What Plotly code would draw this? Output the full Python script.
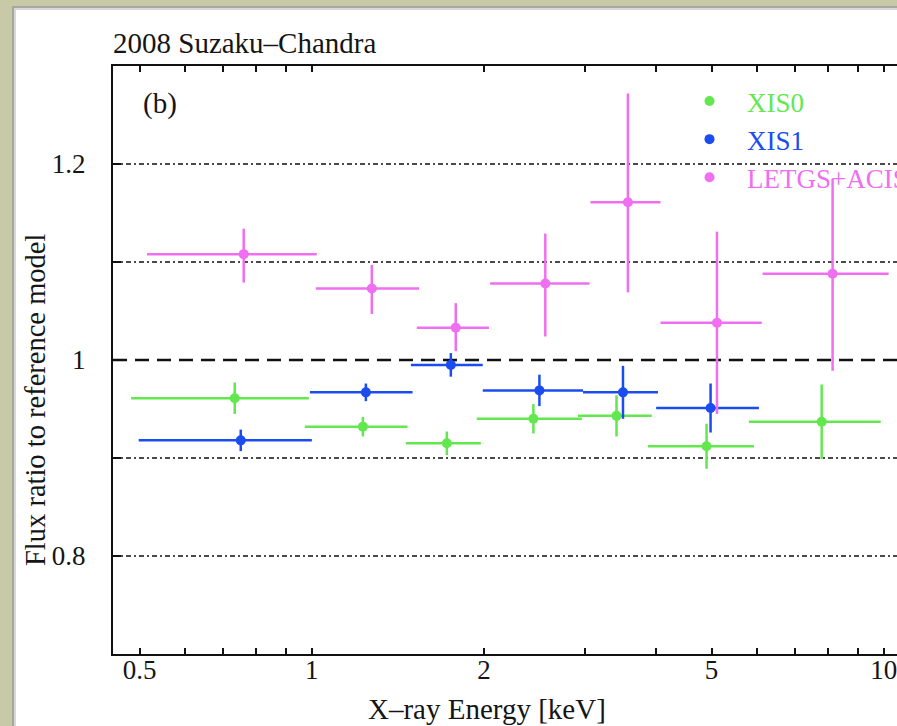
import numpy as np
import plotly.graph_objects as go

# ---------------- data ----------------
xis0_energy = [0.733, 1.228, 1.722, 2.44, 3.41, 4.90, 7.79]
xis0_elo    = [0.483, 0.972, 1.46, 1.943, 2.92, 3.87, 5.81]
xis0_ehi    = [0.988, 1.47, 1.975, 2.965, 3.93, 5.93, 9.88]
xis0_ratio  = [0.961, 0.932, 0.915, 0.940, 0.943, 0.912, 0.937]
xis0_err    = [0.016, 0.010, 0.012, 0.015, 0.021, 0.023, 0.038]

xis1_energy = [0.751, 1.243, 1.75, 2.50, 3.50, 4.98]
xis1_elo    = [0.498, 0.992, 1.49, 1.99, 2.98, 4.00]
xis1_ehi    = [1.00, 1.50, 1.99, 2.98, 4.03, 6.05]
xis1_ratio  = [0.918, 0.967, 0.995, 0.969, 0.967, 0.951]
xis1_err    = [0.011, 0.009, 0.012, 0.016, 0.027, 0.025]

letg_energy = [0.76, 1.273, 1.785, 2.56, 3.57, 5.11, 8.14]
letg_elo    = [0.515, 1.016, 1.526, 2.05, 3.07, 4.07, 6.14]
letg_ehi    = [1.02, 1.54, 2.04, 3.06, 4.07, 6.12, 10.2]
letg_ratio  = [1.108, 1.073, 1.033, 1.078, 1.161, 1.038, 1.088]
letg_errp   = [0.026, 0.024, 0.025, 0.051, 0.111, 0.093, 0.097]
letg_errm   = [0.029, 0.026, 0.024, 0.054, 0.092, 0.093, 0.099]

x_tick_vals = [0.5, 1, 2, 5, 10]
x_tick_text = ["0.5", "1", "2", "5", "10"]
x_minor_vals = [0.6, 0.7, 0.8, 0.9, 3, 4, 6, 7, 8, 9]
x_decade_vals = [1, 10]
y_tick_vals = [0.8, 0.9, 1.0, 1.1, 1.2]
y_tick_text = ["0.8", "", "1", "", "1.2"]
grid_levels = [0.8, 0.9, 1.1, 1.2]
unity_level = 1.0

series_names = ["XIS0", "XIS1", "LETGS+ACIS"]
colors = ["#62e84e", "#1a4cf0", "#f06ef0"]

# ---------------- geometry ----------------
W, H = 897, 726
ML, MR, MT, MB = 113, 0, 66, 72
PW, PH = W - ML - MR, H - MT - MB


def px_x(p):
    return (p - ML) / PW


def px_y(p):
    return (H - MB - p) / PH


FONT = "Liberation Serif"
TXT = "#151515"

fig = go.Figure()


def add_series(name, color, e, lo, hi, r, ep, em):
    e = np.array(e)
    fig.add_trace(go.Scatter(
        x=e, y=r, mode="markers",
        name=f"<span style='color:{color}'>{name}</span>",
        marker=dict(color=color, size=10),
        error_x=dict(type="data", symmetric=False,
                     array=np.array(hi) - e, arrayminus=e - np.array(lo),
                     color=color, thickness=2.5, width=0),
        error_y=dict(type="data", symmetric=False,
                     array=ep, arrayminus=em,
                     color=color, thickness=2.5, width=0),
        legendgroup=name,
    ))


add_series(series_names[0], colors[0], xis0_energy, xis0_elo, xis0_ehi,
           xis0_ratio, xis0_err, xis0_err)
add_series(series_names[1], colors[1], xis1_energy, xis1_elo, xis1_ehi,
           xis1_ratio, xis1_err, xis1_err)
add_series(series_names[2], colors[2], letg_energy, letg_elo, letg_ehi,
           letg_ratio, letg_errp, letg_errm)

xr = [np.log10(0.449), np.log10(10.55)]

shapes = [
    # page shadow and white page
    dict(type="rect", xref="paper", yref="paper", layer="below",
         x0=px_x(12), x1=px_x(W + 5), y0=px_y(6), y1=px_y(H + 5),
         fillcolor="#a8a8a0", line=dict(width=0)),
    dict(type="rect", xref="paper", yref="paper", layer="below",
         x0=px_x(14), x1=px_x(W + 5), y0=px_y(8), y1=px_y(H + 5),
         fillcolor="#d8d8d8", line=dict(width=0)),
    dict(type="rect", xref="paper", yref="paper", layer="below",
         x0=px_x(16), x1=px_x(W + 5), y0=px_y(10), y1=px_y(H + 5),
         fillcolor="white", line=dict(width=0)),
]
for lv in grid_levels:
    shapes.append(dict(type="line", xref="paper", yref="y", layer="below",
                       x0=0, x1=1, y0=lv, y1=lv,
                       line=dict(color="#111", width=1.7, dash="5px,3px,2px,3px")))
shapes.append(dict(type="line", xref="paper", yref="y", layer="below",
                   x0=0, x1=1, y0=unity_level, y1=unity_level,
                   line=dict(color="#111", width=2.3, dash="14px,8px")))

annotations = [
    dict(text="2008 Suzaku–Chandra", xref="paper", yref="paper",
         x=px_x(111), y=px_y(43), xanchor="left", yanchor="middle",
         showarrow=False, font=dict(family=FONT, size=29, color=TXT)),
    dict(text="(b)", xref="paper", yref="paper",
         x=px_x(141), y=px_y(103), xanchor="left", yanchor="middle",
         showarrow=False, font=dict(family=FONT, size=29, color=TXT)),
    dict(text="Flux ratio to reference model", xref="paper", yref="paper",
         x=px_x(35), y=px_y(400), xanchor="center", yanchor="middle",
         textangle=-90, showarrow=False,
         font=dict(family=FONT, size=28.5, color=TXT)),
    dict(text="X–ray Energy [keV]", xref="paper", yref="paper",
         x=px_x(487), y=px_y(709), xanchor="center", yanchor="middle",
         showarrow=False, font=dict(family=FONT, size=29, color=TXT)),
]

fig.update_layout(
    width=W, height=H,
    margin=dict(l=ML, r=MR, t=MT, b=MB, pad=0, autoexpand=False),
    paper_bgcolor="#c7c9a7",
    plot_bgcolor="white",
    showlegend=True,
    legend=dict(x=px_x(672), y=px_y(77), xanchor="left", yanchor="top",
                bgcolor="rgba(0,0,0,0)", borderwidth=0,
                font=dict(family=FONT, size=27),
                itemwidth=65, tracegroupgap=1, traceorder="normal"),
    xaxis=dict(type="log", range=xr, tickmode="array",
               tickvals=x_tick_vals, ticktext=x_tick_text,
               ticks="inside", ticklen=6, tickwidth=1.6, tickcolor="#111",
               showline=True, linewidth=2, linecolor="#111", mirror="ticks",
               showgrid=False, zeroline=False, ticklabelstandoff=-9,
               ticklabeloverflow="allow",
               minor=dict(tickvals=x_minor_vals, ticks="inside", ticklen=6,
                          tickwidth=1.6, tickcolor="#111", showgrid=False),
               tickfont=dict(family=FONT, size=27, color=TXT)),
    xaxis2=dict(type="log", range=xr, overlaying="x", anchor="y",
                side="bottom", tickmode="array", tickvals=x_decade_vals,
                ticks="inside", ticklen=11, tickwidth=1.6, tickcolor="#111",
                showticklabels=False, showline=False, mirror="ticks",
                showgrid=False, zeroline=False),
    yaxis=dict(range=[0.7, 1.3], tickmode="array",
               tickvals=y_tick_vals, ticktext=y_tick_text,
               ticks="inside", ticklen=8, tickwidth=1.6, tickcolor="#111",
               showline=True, linewidth=2, linecolor="#111", mirror=False,
               showgrid=False, zeroline=False, ticklabelstandoff=20,
               tickfont=dict(family=FONT, size=27, color=TXT)),
    shapes=shapes,
    annotations=annotations,
)

fig.write_html("out.html")
